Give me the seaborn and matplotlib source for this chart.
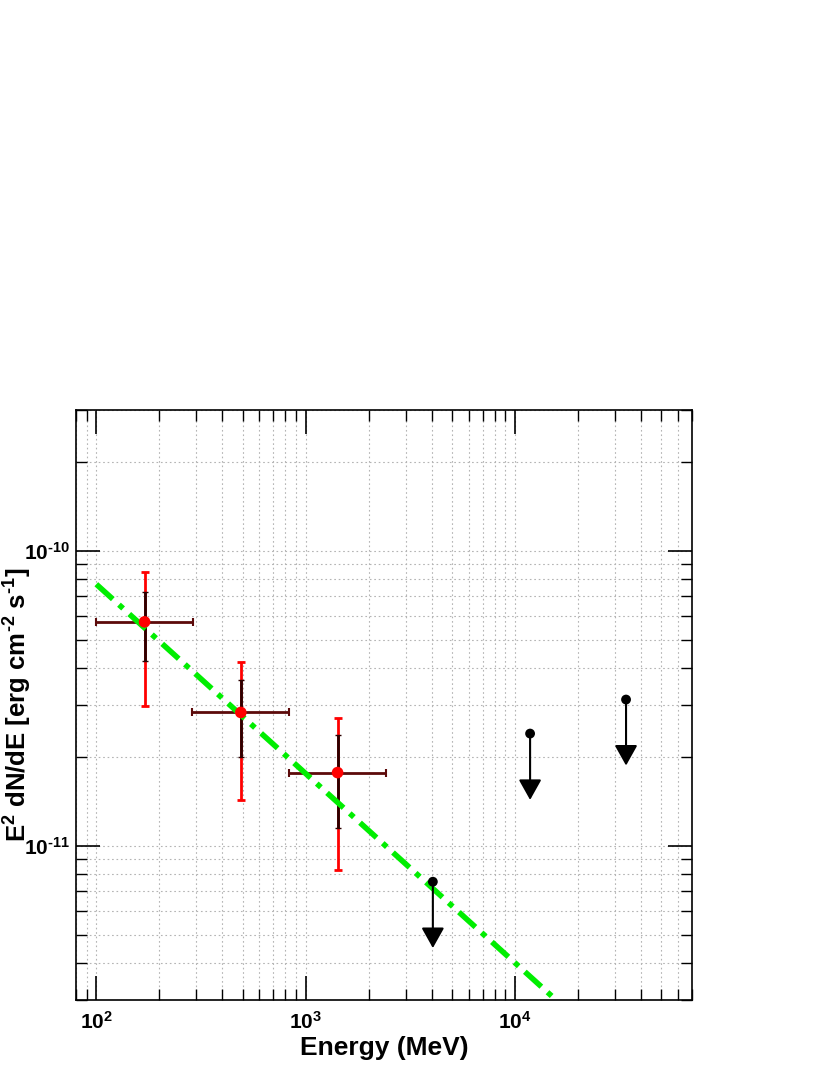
import numpy as np
import pandas as pd
import matplotlib
matplotlib.use("Agg")
import matplotlib.pyplot as plt
import seaborn as sns
from matplotlib.ticker import FixedLocator, NullFormatter, LogLocator

# detected bins
energy = [170, 490, 1420]
e_lo = [100, 288, 830]
e_hi = [290, 832, 2410]
flux = [5.74e-11, 2.83e-11, 1.77e-11]
stat_lo = [4.23e-11, 2.00e-11, 1.15e-11]
stat_hi = [7.27e-11, 3.66e-11, 2.38e-11]
tot_lo = [2.98e-11, 1.43e-11, 8.3e-12]
tot_hi = [8.5e-11, 4.2e-11, 2.70e-11]

# upper limits
ul_energy = [4050, 11800, 33900]
ul_flux = [7.55e-12, 2.40e-11, 3.13e-11]
ul_tip = [4.5e-12, 1.43e-11, 1.87e-11]

# power-law model (two ends of the straight line in log-log)
model_e = [100, 15700]
model_f = [7.7e-11, 3.0e-12]

xticks = [1e2, 1e3, 1e4]
xtick_labels = [r"$10^{2}$", r"$10^{3}$", r"$10^{4}$"]
yticks = [1e-11, 1e-10]
ytick_labels = [r"$10^{\text{-}11}$", r"$10^{\text{-}10}$"]

sns.set_theme(style="white")
plt.rcParams["font.family"] = ["Liberation Sans", "DejaVu Sans"]
plt.rcParams["mathtext.fontset"] = "custom"
plt.rcParams["mathtext.rm"] = "Liberation Sans:bold"
plt.rcParams["mathtext.it"] = "Liberation Sans:bold"
plt.rcParams["mathtext.bf"] = "Liberation Sans:bold"
plt.rcParams["text.color"] = "black"
plt.rcParams["axes.labelcolor"] = "black"
plt.rcParams["xtick.color"] = "black"
plt.rcParams["ytick.color"] = "black"

fig = plt.figure(figsize=(8.3, 10.75), dpi=100)
ax = fig.add_axes([0.0916, 0.0698, 0.7421, 0.5488])
ax.set_xscale("log")
ax.set_yscale("log")
ax.set_xlim(80, 70000)
ax.set_ylim(3.0e-12, 3.0e-10)

ax.grid(True, which="both", color="#b4b4b4", linestyle=(0, (1.5, 2.5)), lw=0.8)
ax.set_axisbelow(True)

df = pd.DataFrame({"E": energy, "F": flux})
f = np.array(flux)
e = np.array(energy)

# total errors (red)
ax.errorbar(e, f, yerr=[f - np.array(tot_lo), np.array(tot_hi) - f], fmt="none",
            ecolor="#ff0000", elinewidth=2, capsize=3, capthick=2, zorder=3)
# statistical errors + energy bins (dark)
ax.errorbar(e, f, xerr=[e - np.array(e_lo), np.array(e_hi) - e], fmt="none",
            ecolor="#5c0a0a", elinewidth=2, capsize=3, capthick=1.5, zorder=4)
ax.errorbar(e, f, yerr=[f - np.array(stat_lo), np.array(stat_hi) - f], fmt="none",
            ecolor="#2a0000", elinewidth=2, capsize=2, capthick=1, zorder=4)
sns.scatterplot(data=df, x="E", y="F", ax=ax, color="#ff0000", s=70,
                edgecolor="none", zorder=5, legend=False)

# upper limits
sns.scatterplot(x=ul_energy, y=ul_flux, ax=ax, color="black", s=50,
                edgecolor="none", zorder=5, legend=False)
for xe, yf, yt in zip(ul_energy, ul_flux, ul_tip):
    ax.annotate("", xy=(xe, yt), xytext=(xe, yf),
                arrowprops=dict(arrowstyle="-|>,head_length=0.5,head_width=0.28",
                                color="black", lw=1.5, mutation_scale=25,
                                shrinkA=0, shrinkB=0), zorder=5)

# model
sns.lineplot(x=model_e, y=model_f, ax=ax, color="#00ee00", lw=4,
             linestyle=(0, (4, 1.5, 1, 1.5)), zorder=4)

# ROOT-like ticks on all four sides
ax.tick_params(which="both", direction="in", top=True, right=True, bottom=True, left=True,
               colors="black")
ax.tick_params(which="major", length=17, width=1.2)
ax.tick_params(which="minor", length=8, width=1)
ax.xaxis.set_major_locator(FixedLocator(xticks))
ax.set_xticklabels(xtick_labels, fontsize=15)
ax.xaxis.set_minor_locator(LogLocator(base=10, subs=np.arange(2, 10)))
ax.xaxis.set_minor_formatter(NullFormatter())
ax.yaxis.set_major_locator(FixedLocator(yticks))
ax.set_yticklabels(ytick_labels, fontsize=15)
ax.yaxis.set_minor_locator(LogLocator(base=10, subs=np.arange(2, 10)))
ax.yaxis.set_minor_formatter(NullFormatter())
ax.tick_params(axis="x", which="major", pad=8)
ax.tick_params(axis="y", which="major", pad=4)

for s in ax.spines.values():
    s.set_color("black")
    s.set_linewidth(1.2)

ax.set_xlabel("Energy (MeV)", fontsize=19, fontweight="bold", labelpad=2)
ax.set_ylabel(r"E$^{2}$ dN/dE [erg cm$^{\text{-}2}$ s$^{\text{-}1}$]", fontsize=18.5,
              fontweight="bold", va="center")
ax.yaxis.set_label_coords(-0.094, 0.50)

fig.savefig("out.png", dpi=100, facecolor="white")
